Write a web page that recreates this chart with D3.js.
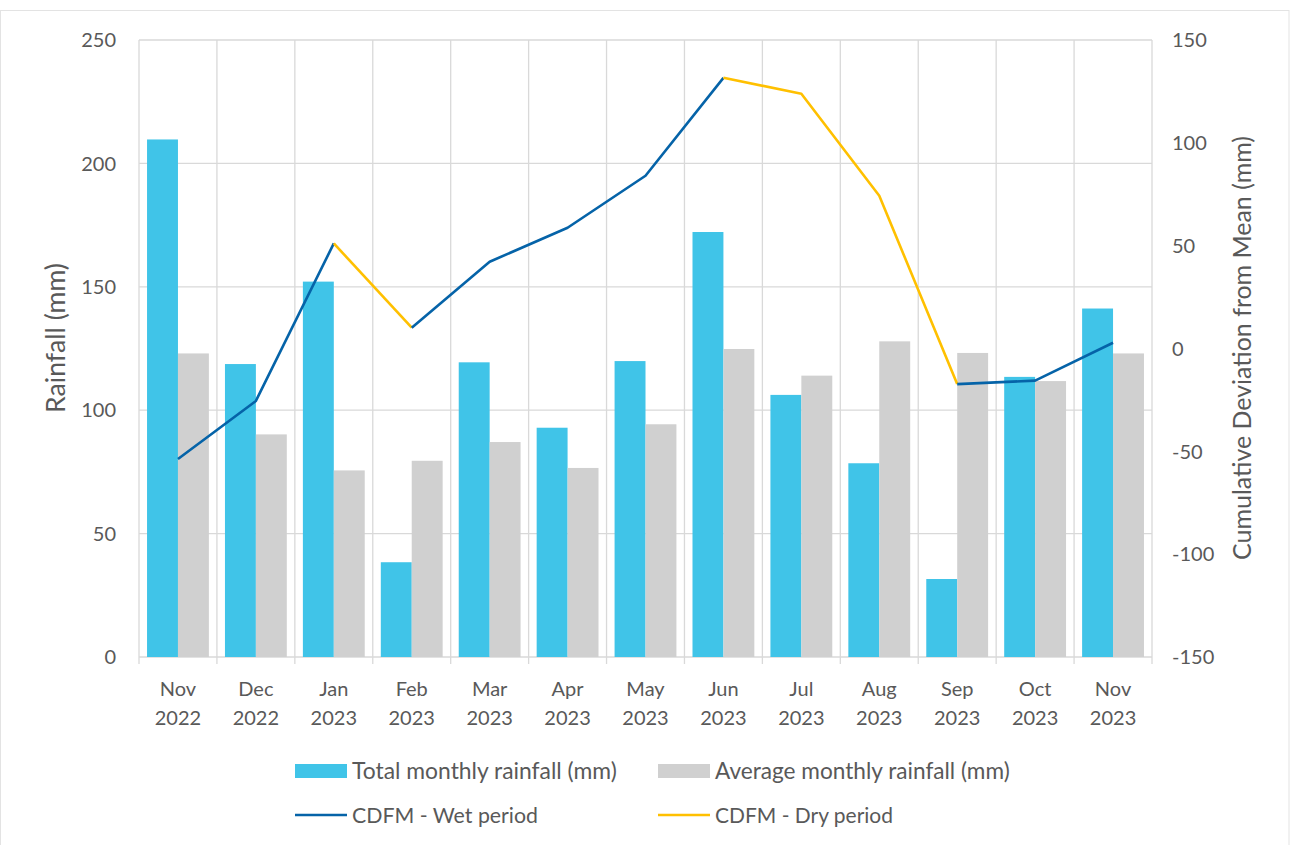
<!DOCTYPE html>
<html><head><meta charset="utf-8">
<script src="https://cdn.jsdelivr.net/npm/d3@7"></script>
<style>
body{margin:0;background:#fff;}
svg text{font-family:Lato,"Open Sans",sans-serif;fill:#595959;}
</style></head>
<body><svg id="c" width="1290" height="845"></svg>
<script>
const months = ["Nov|2022","Dec|2022","Jan|2023","Feb|2023","Mar|2023","Apr|2023","May|2023","Jun|2023","Jul|2023","Aug|2023","Sep|2023","Oct|2023","Nov|2023"];
const totalRain = [209.7,118.7,152.1,38.4,119.4,92.9,119.9,172.2,106.2,78.5,31.6,113.5,141.2];
const avgRain = [123.0,90.2,75.6,79.5,87.1,76.6,94.3,124.8,114.0,127.9,123.2,111.8,123.0];
const cdfm = [-53.7,-25.5,51.1,10.1,42.2,58.7,84.0,131.6,123.9,74.3,-17.3,-15.6,2.8];
// period of each segment between consecutive months
const segPeriod = ["wet","wet","dry","wet","wet","wet","wet","dry","dry","dry","wet","wet"];
const leftTicks = [0,50,100,150,200,250];
const rightTicks = [-150,-100,-50,0,50,100,150];

const svg = d3.select("#c");
const L=139, R=1152, T=40, B=657;
const col = {total:"#40C4E8", avg:"#D0D0D0", wet:"#0563A8", dry:"#FFC000", grid:"#D9D9D9"};

function fit(sel, w){ sel.each(function(){ const n=this, l=n.getComputedTextLength(); const fs=parseFloat(n.getAttribute("font-size")); n.setAttribute("font-size", fs*w/l); }); }

svg.append("rect").attr("x",0.5).attr("y",10.5).attr("width",1288.5).attr("height",840).attr("fill","none").attr("stroke","#E3E3E3");

const x = d3.scaleBand().domain(months).range([L,R]).padding(0);
const xs = d3.scaleBand().domain(["total","avg"]).range([0,x.bandwidth()]).paddingInner(0).paddingOuter(0.26);
const yL = d3.scaleLinear().domain([0,250]).range([B,T]);
const yR = d3.scaleLinear().domain([-150,150]).range([B,T]);

svg.append("g").selectAll("line").data(leftTicks).join("line")
  .attr("x1",L).attr("x2",R).attr("y1",d=>yL(d)).attr("y2",d=>yL(d))
  .attr("stroke",col.grid).attr("stroke-width",1.3);
const bounds = months.map(m=>x(m)).concat([R]);
svg.append("g").selectAll("line").data(bounds).join("line")
  .attr("x1",d=>d).attr("x2",d=>d).attr("y1",T).attr("y2",B+7)
  .attr("stroke",col.grid).attr("stroke-width",1.3);

const g = svg.append("g");
g.selectAll(".t").data(months).join("rect")
  .attr("x",(m)=>x(m)+xs("total")).attr("width",xs.bandwidth())
  .attr("y",(m,i)=>yL(totalRain[i])).attr("height",(m,i)=>yL(0)-yL(totalRain[i]))
  .attr("fill",col.total);
g.selectAll(".a").data(months).join("rect")
  .attr("x",(m)=>x(m)+xs("avg")).attr("width",xs.bandwidth())
  .attr("y",(m,i)=>yL(avgRain[i])).attr("height",(m,i)=>yL(0)-yL(avgRain[i]))
  .attr("fill",col.avg);

const cx = i => x(months[i]) + x.bandwidth()/2;
const line = d3.line().x(d=>cx(d)).y(d=>yR(cdfm[d]));
// group consecutive segments of same period into paths
const runs = [];
segPeriod.forEach((p,i)=>{
  const last = runs[runs.length-1];
  if(last && last.p===p) last.idx.push(i+1); else runs.push({p, idx:[i,i+1]});
});
svg.append("g").selectAll("path").data(runs).join("path")
  .attr("d",d=>line(d.idx)).attr("fill","none")
  .attr("stroke",d=>col[d.p]).attr("stroke-width",2.6).attr("stroke-linejoin","round");

svg.append("g").selectAll("text").data(leftTicks).join("text")
  .attr("x",116).attr("y",d=>yL(d)).attr("dy","0.36em").attr("text-anchor","end")
  .attr("font-size",20).text(d=>d);
svg.append("g").selectAll("text").data(rightTicks).join("text")
  .attr("x",1172).attr("y",d=>yR(d)).attr("dy","0.36em").attr("text-anchor","start")
  .attr("font-size",20).text(d=>d);
const xl = svg.append("g").selectAll("text").data(months).join("text")
  .attr("x",m=>x(m)+x.bandwidth()/2).attr("text-anchor","middle").attr("font-size",20);
xl.append("tspan").attr("x",m=>x(m)+x.bandwidth()/2).attr("y",696).text(m=>m.split("|")[0]);
xl.append("tspan").attr("x",m=>x(m)+x.bandwidth()/2).attr("y",725).text(m=>m.split("|")[1]);

const t1 = svg.append("text").attr("transform","translate(65,338) rotate(-90)").attr("text-anchor","middle")
  .attr("font-size",22).text("Rainfall (mm)");
fit(t1,150);
const t2 = svg.append("text").attr("transform","translate(1251,348) rotate(-90)").attr("text-anchor","middle")
  .attr("font-size",22).text("Cumulative Deviation from Mean (mm)");
fit(t2,424);

const leg = [
  {t:"Total monthly rainfall (mm)", x:295, y:771, type:"rect", c:col.total, w:265},
  {t:"Average monthly rainfall (mm)", x:658, y:771, type:"rect", c:col.avg, w:295},
  {t:"CDFM - Wet period", x:295, y:815, type:"line", c:col.wet, w:186},
  {t:"CDFM - Dry period", x:658, y:815, type:"line", c:col.dry, w:178}
];
const lg = svg.append("g").selectAll("g").data(leg).join("g");
lg.filter(d=>d.type==="rect").append("rect").attr("x",d=>d.x).attr("y",d=>d.y-7).attr("width",52).attr("height",14).attr("fill",d=>d.c);
lg.filter(d=>d.type==="line").append("line").attr("x1",d=>d.x).attr("x2",d=>d.x+52).attr("y1",d=>d.y).attr("y2",d=>d.y).attr("stroke",d=>d.c).attr("stroke-width",2.6);
lg.append("text").attr("x",d=>d.x+57).attr("y",d=>d.y).attr("dy","0.36em").attr("font-size",21).text(d=>d.t)
  .each(function(d){ fit(d3.select(this), d.w); });
</script></body></html>
